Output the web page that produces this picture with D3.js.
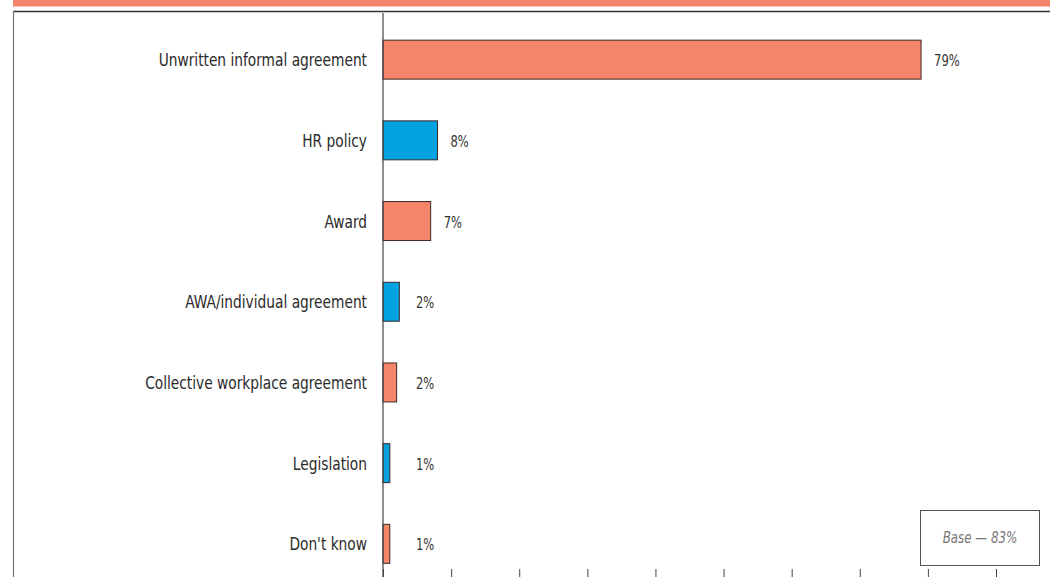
<!DOCTYPE html>
<html>
<head>
<meta charset="utf-8">
<script src="https://cdn.jsdelivr.net/npm/d3@7"></script>
<style>
  html, body { margin: 0; padding: 0; background: #fff; }
  svg { display: block; }
  text { font-family: "Liberation Sans Narrow", "DejaVu Sans Condensed", sans-serif; }
</style>
</head>
<body>
<svg id="chart" width="1050" height="577"></svg>
<script>
// Arrangement used for the working-time agreement, share of respondents (%)
const categories = [
  "Unwritten informal agreement",
  "HR policy",
  "Award",
  "AWA/individual agreement",
  "Collective workplace agreement",
  "Legislation",
  "Don't know"
];
const values = [79, 8, 7, 2.4, 2, 1, 1];
const seriesColors = ["#F4846A", "#00A3E0"];
const xTicks = [0, 10, 20, 30, 40, 50, 60, 70, 80, 90];
const baseNote = "Base \u2014 83%";

const W = 1050, H = 577;
const svg = d3.select("#chart");

const rows = categories.map((c, i) => ({ name: c, value: values[i], idx: i }));

const x = d3.scaleLinear().domain([0, 90]).range([383, 996]);
const y = d3.scaleBand().domain(categories).range([19.3, 584.2])
  .paddingInner(0.517).paddingOuter(0.2585);

// condensed text: narrow the glyphs horizontally around the anchor point
const squeeze = (px, py, k) => `translate(${px},${py}) scale(${k},1)`;

// frame: accent band, top rule and left rule
svg.append("rect").attr("x", 13).attr("y", 0).attr("width", W - 13).attr("height", 6.5)
  .attr("fill", seriesColors[0]);
svg.append("line").attr("x1", 13).attr("x2", W).attr("y1", 11.5).attr("y2", 11.5)
  .attr("stroke", "#333").attr("stroke-width", 1.5);
svg.append("line").attr("x1", 13.5).attr("x2", 13.5).attr("y1", 11).attr("y2", H)
  .attr("stroke", "#777").attr("stroke-width", 1.2);

// bottom ticks (labels fall outside the frame)
const xAxis = d3.axisBottom(x).tickValues(xTicks).tickSize(12).tickFormat("");
const gx = svg.append("g").attr("transform", "translate(0,569)").call(xAxis);
gx.select(".domain").remove();
gx.selectAll(".tick line").attr("stroke", "#444").attr("stroke-width", 1);

// bars
svg.append("g").selectAll("rect").data(rows).join("rect")
  .attr("x", x(0))
  .attr("y", d => y(d.name))
  .attr("width", d => x(d.value) - x(0))
  .attr("height", y.bandwidth())
  .attr("fill", d => seriesColors[d.idx % 2])
  .attr("stroke", "#3a2a26")
  .attr("stroke-width", 1);

// value axis line
svg.append("line").attr("x1", x(0)).attr("x2", x(0)).attr("y1", 13).attr("y2", H)
  .attr("stroke", "#444").attr("stroke-width", 1.2);

// category labels
svg.append("g").selectAll("text").data(rows).join("text")
  .attr("transform", d => squeeze(x(0) - 16, y(d.name) + y.bandwidth() / 2, 0.85))
  .attr("dy", "0.36em")
  .attr("text-anchor", "end")
  .attr("font-size", 18)
  .attr("fill", "#2b2b2b")
  .text(d => d.name);

// value labels, kept clear of the axis for short bars
svg.append("g").selectAll("text").data(rows).join("text")
  .attr("transform", d => squeeze(Math.max(x(d.value) + 13, 416), y(d.name) + y.bandwidth() / 2 + 1, 0.8))
  .attr("dy", "0.35em")
  .attr("font-size", 16)
  .attr("fill", "#333")
  .text(d => Math.round(d.value) + "%");

// base note box
svg.append("rect").attr("x", 920.5).attr("y", 510.5).attr("width", 119).attr("height", 55)
  .attr("fill", "#fff").attr("stroke", "#555").attr("stroke-width", 1);
svg.append("text")
  .attr("transform", squeeze(980, 538, 0.88))
  .attr("dy", "0.35em")
  .attr("text-anchor", "middle").attr("font-size", 15).attr("font-style", "italic")
  .attr("fill", "#777").text(baseNote);
</script>
</body>
</html>
